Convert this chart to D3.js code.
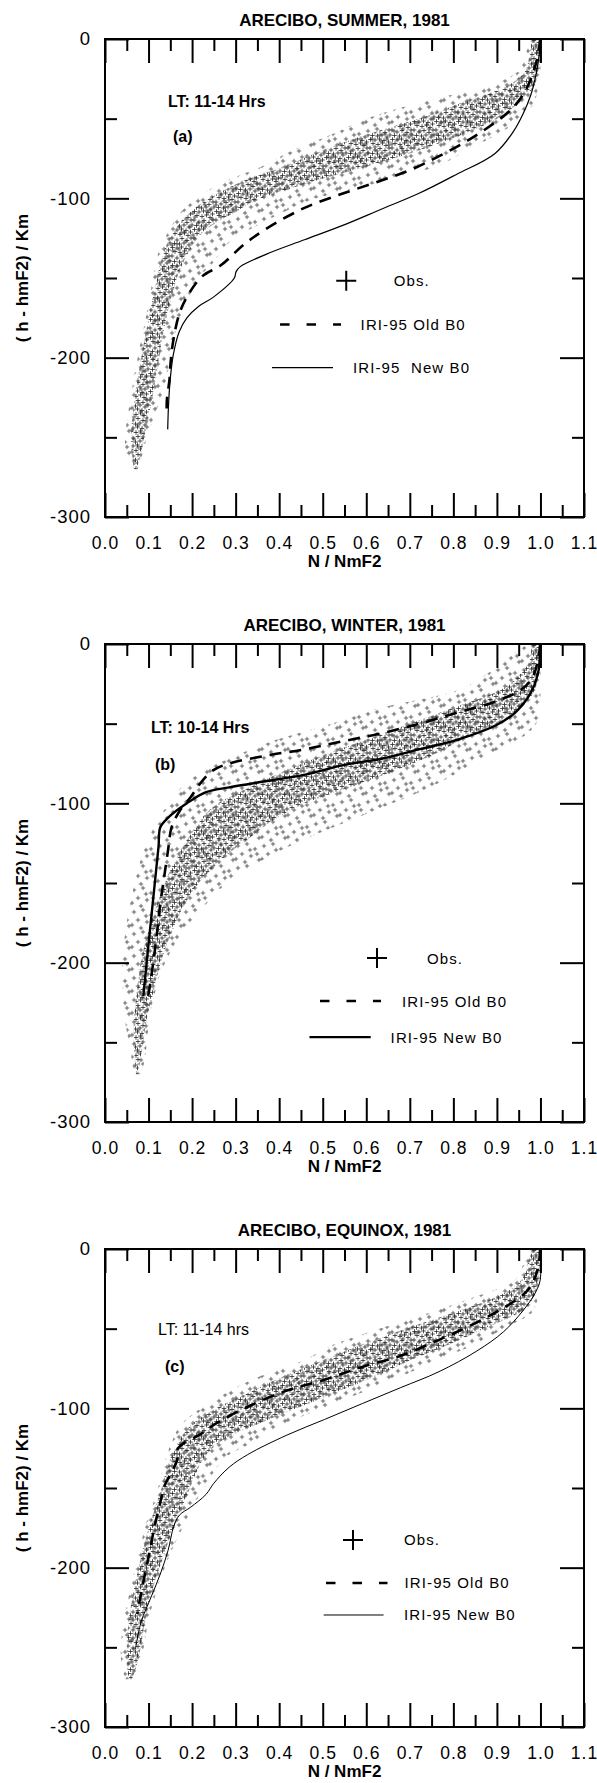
<!DOCTYPE html>
<html>
<head>
<meta charset="utf-8">
<script src="https://cdn.jsdelivr.net/npm/d3@7"></script>
<style>
body { margin:0; background:#fff; }
svg { display:block; font-family:"Liberation Sans", Arial, sans-serif; }
</style>
</head>
<body>
<svg id="chart" width="597" height="1783"></svg>
<script>
// tick values
var xTickLabels = [0, 0.1, 0.2, 0.3, 0.4, 0.5, 0.6, 0.7, 0.8, 0.9, 1.0, 1.1];
var xMinor = [0.05, 0.15, 0.25, 0.35, 0.45, 0.55, 0.65, 0.75, 0.85, 0.95, 1.05];
var yTickLabels = [0, -100, -200, -300];
var yMinor = [-50, -150, -250];

// heights (km) at which the spread of the observed profiles was read
var obsH = [0, -10, -20, -30, -40, -50, -60, -70, -80, -90, -100, -110, -120, -130,
            -140, -150, -160, -170, -180, -190, -200, -210, -220, -230, -240, -250, -260, -270];

// (a) summer : observed spread (outer / dense core)
var aOutL  = [0.975, 0.965, 0.95, 0.87, 0.72, 0.6, 0.52, 0.43, 0.36, 0.27, 0.21, 0.17, 0.148, 0.127, 0.118, 0.11, 0.104, 0.097, 0.09, 0.082, 0.075, 0.068, 0.062, 0.056, 0.05, 0.046, 0.046, 0.058];
var aOutR  = [1.0, 1.0, 1.0, 0.995, 0.985, 0.956, 0.9, 0.83, 0.76, 0.63, 0.485, 0.4, 0.33, 0.275, 0.25, 0.214, 0.196, 0.179, 0.166, 0.157, 0.148, 0.144, 0.135, 0.122, 0.109, 0.096, 0.087, 0.075];
var aCoreL = [0.98, 0.975, 0.965, 0.92, 0.82, 0.72, 0.6, 0.5, 0.41, 0.31, 0.24, 0.19, 0.16, 0.14, 0.128, 0.12, 0.112, 0.104, 0.097, 0.09, 0.083, 0.077, 0.071, 0.066, 0.062, 0.06, 0.062, 0.066];
var aCoreR = [1.0, 1.0, 0.995, 0.985, 0.95, 0.9, 0.82, 0.72, 0.6, 0.47, 0.36, 0.29, 0.23, 0.2, 0.18, 0.165, 0.155, 0.145, 0.137, 0.13, 0.124, 0.118, 0.112, 0.105, 0.098, 0.09, 0.083, 0.072];
// (a) IRI-95 curves
var aOldX = [1.0, 0.99, 0.975, 0.955, 0.93, 0.877, 0.825, 0.764, 0.703, 0.633, 0.546, 0.458, 0.371, 0.319, 0.266, 0.223, 0.188, 0.17, 0.157, 0.151, 0.148, 0.142, 0.142];
var aOldH = [0, -15, -27, -37, -45, -56, -65, -74, -82, -89, -97, -106, -119, -129, -142, -149, -162, -173, -189, -202, -214, -227, -236];
var aNewX = [1.0, 0.997, 0.99, 0.978, 0.96, 0.938, 0.895, 0.807, 0.72, 0.633, 0.546, 0.458, 0.371, 0.31, 0.301, 0.297, 0.249, 0.214, 0.188, 0.17, 0.157, 0.15, 0.146, 0.144];
var aNewH = [0, -10, -22, -35, -47, -58, -72, -85, -97, -107, -117, -126, -135, -143, -146, -150, -162, -168, -175, -184, -198, -213, -229, -245];

// (b) winter
var bOutL  = [0.97, 0.92, 0.87, 0.8, 0.635, 0.52, 0.395, 0.3, 0.223, 0.175, 0.147, 0.122, 0.103, 0.088, 0.077, 0.068, 0.06, 0.053, 0.047, 0.043, 0.04, 0.04, 0.041, 0.043, 0.048, 0.055, 0.061, 0.066];
var bOutR  = [1.0, 1.0, 1.0, 1.0, 1.0, 0.99, 0.95, 0.875, 0.815, 0.745, 0.66, 0.57, 0.48, 0.4, 0.335, 0.28, 0.243, 0.21, 0.18, 0.157, 0.138, 0.123, 0.114, 0.105, 0.1, 0.096, 0.092, 0.083];
var bCoreL = [0.98, 0.975, 0.95, 0.9, 0.8, 0.7, 0.6, 0.5, 0.41, 0.33, 0.26, 0.22, 0.195, 0.172, 0.153, 0.138, 0.124, 0.111, 0.1, 0.09, 0.082, 0.077, 0.072, 0.068, 0.066, 0.066, 0.068, 0.072];
var bCoreR = [1.0, 1.0, 0.995, 0.985, 0.955, 0.9, 0.82, 0.75, 0.66, 0.56, 0.46, 0.39, 0.34, 0.29, 0.25, 0.215, 0.19, 0.17, 0.155, 0.14, 0.128, 0.118, 0.11, 0.1, 0.093, 0.087, 0.082, 0.075];
var bOldX = [1.0, 0.985, 0.959, 0.898, 0.81, 0.723, 0.635, 0.547, 0.46, 0.372, 0.285, 0.25, 0.223, 0.197, 0.171, 0.153, 0.145, 0.136, 0.127, 0.117, 0.105, 0.096];
var bOldH = [0, -19, -28, -36, -43, -50, -56, -61, -66, -70, -75, -79, -86, -96, -105, -115, -129, -146, -163, -187, -211, -226];
var bNewX = [1.0, 0.994, 0.977, 0.942, 0.898, 0.81, 0.723, 0.635, 0.547, 0.46, 0.372, 0.285, 0.232, 0.188, 0.145, 0.127, 0.123, 0.114, 0.105, 0.096, 0.088];
var bNewH = [0, -19, -31, -43, -51, -60, -66, -72, -76, -82, -86, -90, -93, -100, -109, -115, -127, -151, -175, -199, -221];

// (c) equinox
var cOutL  = [0.972, 0.96, 0.94, 0.85, 0.745, 0.63, 0.525, 0.455, 0.355, 0.28, 0.22, 0.175, 0.155, 0.141, 0.131, 0.122, 0.11, 0.097, 0.087, 0.078, 0.069, 0.061, 0.053, 0.045, 0.04, 0.036, 0.037, 0.048];
var cOutR  = [1.0, 1.0, 1.0, 0.995, 0.98, 0.914, 0.85, 0.76, 0.68, 0.59, 0.5, 0.41, 0.35, 0.28, 0.25, 0.228, 0.205, 0.187, 0.169, 0.152, 0.137, 0.123, 0.113, 0.102, 0.095, 0.089, 0.079, 0.063];
var cCoreL = [0.98, 0.97, 0.955, 0.9, 0.8, 0.69, 0.59, 0.5, 0.41, 0.33, 0.255, 0.2, 0.17, 0.152, 0.14, 0.13, 0.118, 0.106, 0.095, 0.086, 0.077, 0.069, 0.062, 0.056, 0.052, 0.05, 0.05, 0.055];
var cCoreR = [1.0, 1.0, 0.995, 0.985, 0.95, 0.87, 0.79, 0.7, 0.62, 0.53, 0.44, 0.35, 0.27, 0.23, 0.21, 0.195, 0.18, 0.165, 0.15, 0.138, 0.125, 0.113, 0.103, 0.095, 0.088, 0.082, 0.074, 0.062];
var cOldX = [1.0, 0.994, 0.981, 0.959, 0.915, 0.854, 0.767, 0.679, 0.591, 0.504, 0.416, 0.328, 0.258, 0.215, 0.18, 0.164, 0.166, 0.149, 0.136, 0.127, 0.114, 0.101, 0.088, 0.074];
var cOldH = [0, -12, -22, -29, -37, -46, -57, -67, -74, -82, -89, -99, -109, -117, -122, -127, -132, -142, -149, -159, -174, -192, -209, -229];
var cNewX = [1.0, 0.999, 0.985, 0.959, 0.915, 0.854, 0.767, 0.679, 0.591, 0.504, 0.416, 0.328, 0.285, 0.25, 0.232, 0.197, 0.171, 0.158, 0.145, 0.127, 0.105, 0.083, 0.07];
var cNewH = [0, -20, -29, -39, -52, -64, -77, -87, -97, -107, -117, -129, -137, -147, -154, -162, -167, -174, -189, -204, -219, -234, -251];

var titles = ["ARECIBO, SUMMER, 1981", "ARECIBO, WINTER, 1981", "ARECIBO, EQUINOX, 1981"];
var ltTexts = ["LT: 11-14 Hrs", "LT: 10-14 Hrs", "LT: 11-14 hrs"];
var tags = ["(a)", "(b)", "(c)"];
var newLabels = ["IRI-95  New B0", "IRI-95 New B0", "IRI-95 New B0"];

// layout only
var plotLeft = 105, plotW = 479, plotH = 478;
var layout = [
  {top: 39,   ltX: 63, ltY: 68, ltBold: true,  tagX: 68, tagY: 103, newW: 1.2,
   leg: {plusX: 0.554, plusY: -151.7, obsX: 0.663, l0: 0.402, l1: 0.542, oldY: -179.2, oldX: 0.587, n0: 0.3835, n1: 0.5236, newY: -206.2, newX: 0.5695}},
  {top: 644,  ltX: 46, ltY: 89, ltBold: true,  tagX: 50, tagY: 126, newW: 2.4,
   leg: {plusX: 0.6246, plusY: -197.1, obsX: 0.7394, l0: 0.4937, l1: 0.6338, oldY: -224.1, oldX: 0.682, n0: 0.4696, n1: 0.6102, newY: -246.7, newX: 0.6559}},
  {top: 1249, ltX: 53, ltY: 86, ltBold: false, tagX: 60, tagY: 123, newW: 1.0,
   leg: {plusX: 0.5695, plusY: -182.6, obsX: 0.6866, l0: 0.5075, l1: 0.6487, oldY: -209.6, oldX: 0.688, n0: 0.5022, n1: 0.6398, newY: -229.7, newX: 0.6866}}
];

var spreads = [
  {outL: aOutL, outR: aOutR, coreL: aCoreL, coreR: aCoreR, oldX: aOldX, oldH: aOldH, newX: aNewX, newH: aNewH},
  {outL: bOutL, outR: bOutR, coreL: bCoreL, coreR: bCoreR, oldX: bOldX, oldH: bOldH, newX: bNewX, newH: bNewH},
  {outL: cOutL, outR: cOutR, coreL: cCoreL, coreR: cCoreR, oldX: cOldX, oldH: cOldH, newX: cNewX, newH: cNewH}
];

var svg = d3.select("#chart");
var defs = svg.append("defs");

// "+" marker textures for the observed profiles (tile positions are texture only)
function plusPattern(id, w, h, pts, color, sw, arm) {
  var p = defs.append("pattern").attr("id", id)
    .attr("patternUnits", "userSpaceOnUse").attr("width", w).attr("height", h);
  var d = "";
  pts.forEach(function (q) {
    [-1, 0, 1].forEach(function (i) {
      [-1, 0, 1].forEach(function (j) {
        var cx = q[0] + i * w, cy = q[1] + j * h;
        d += "M" + (cx - arm) + "," + cy + "h" + 2 * arm + "M" + cx + "," + (cy - arm) + "v" + 2 * arm;
      });
    });
  });
  p.append("path").attr("d", d).attr("stroke", color).attr("stroke-width", sw).attr("fill", "none");
}
plusPattern("obsSparse", 26, 22,
  [[3, 4], [12, 2], [20, 7], [7, 12], [16, 14], [24, 18], [10, 20], [1, 17], [22, 12], [15, 8]],
  "#3c3c3c", 0.75, 2.2);
plusPattern("obsDense", 22, 18,
  [[1, 1], [6, 3], [11, 1.5], [16, 3.5], [20, 1], [3.5, 6.5], [8.5, 7], [13, 6],
   [18, 8], [1.5, 10.5], [6, 11], [10.5, 10], [15, 11.5], [19.5, 13], [4, 14.5],
   [9, 15.5], [13.5, 14], [17, 16.5], [21, 6]],
  "#2a2a2a", 0.8, 2.3);

var x = d3.scaleLinear().domain([0, 1.1]).range([0, plotW]);
var y = d3.scaleLinear().domain([0, -300]).range([0, plotH]);

var area = d3.area()
  .y(function (d) { return y(d.h); })
  .x0(function (d) { return x(d.l); })
  .x1(function (d) { return x(d.r); })
  .curve(d3.curveMonotoneY);

var line = d3.line()
  .x(function (d) { return x(d[0]); })
  .y(function (d) { return y(d[1]); })
  .curve(d3.curveCatmullRom.alpha(0.5));

function styleAxis(g, size) {
  g.select(".domain").remove();
  g.selectAll(".tick line").attr("stroke", "#000").attr("stroke-width", 2);
  g.selectAll("text").attr("fill", "#000").style("font-size", size + "px")
    .style("letter-spacing", "1px").style("font-family", "'Liberation Sans', Arial, sans-serif");
}

layout.forEach(function (L, i) {
  var S = spreads[i];
  var g = svg.append("g").attr("transform", "translate(" + plotLeft + "," + L.top + ")");

  g.append("clipPath").attr("id", "clip" + i)
    .append("rect").attr("width", plotW).attr("height", plotH);

  var data = g.append("g").attr("clip-path", "url(#clip" + i + ")");
  var outer = obsH.map(function (h, k) { return {h: h, l: S.outL[k], r: S.outR[k]}; });
  var core = obsH.map(function (h, k) { return {h: h, l: S.coreL[k], r: S.coreR[k]}; });
  data.append("path").datum(outer).attr("d", area).attr("fill", "url(#obsSparse)");
  data.append("path").datum(core).attr("d", area).attr("fill", "url(#obsDense)");

  data.append("path").datum(S.oldX.map(function (v, k) { return [v, S.oldH[k]]; }))
    .attr("d", line).attr("fill", "none").attr("stroke", "#000")
    .attr("stroke-width", 2.6).attr("stroke-dasharray", "12,8");
  data.append("path").datum(S.newX.map(function (v, k) { return [v, S.newH[k]]; }))
    .attr("d", line).attr("fill", "none").attr("stroke", "#000")
    .attr("stroke-width", L.newW);

  // axes: inward ticks on all four sides
  g.append("g").attr("transform", "translate(0," + plotH + ")")
    .call(d3.axisBottom(x).tickValues(xTickLabels).tickSizeInner(-24).tickSizeOuter(0)
      .tickPadding(20).tickFormat(d3.format(".1f")))
    .call(styleAxis, 17.5);
  g.append("g").attr("transform", "translate(0," + plotH + ")")
    .call(d3.axisBottom(x).tickValues(xMinor).tickSizeInner(-12).tickSizeOuter(0).tickFormat(""))
    .call(styleAxis, 17);
  g.append("g")
    .call(d3.axisTop(x).tickValues(xTickLabels).tickSizeInner(-24).tickSizeOuter(0).tickFormat(""))
    .call(styleAxis, 17);
  g.append("g")
    .call(d3.axisTop(x).tickValues(xMinor).tickSizeInner(-12).tickSizeOuter(0).tickFormat(""))
    .call(styleAxis, 17);
  g.append("g")
    .call(d3.axisLeft(y).tickValues(yTickLabels).tickSizeInner(-24).tickSizeOuter(0)
      .tickPadding(14).tickFormat(function (d) { return String(d); }))
    .call(styleAxis, 18.5);
  g.append("g")
    .call(d3.axisLeft(y).tickValues(yMinor).tickSizeInner(-12).tickSizeOuter(0).tickFormat(""))
    .call(styleAxis, 17);
  g.append("g").attr("transform", "translate(" + plotW + ",0)")
    .call(d3.axisRight(y).tickValues(yTickLabels).tickSizeInner(-24).tickSizeOuter(0).tickFormat(""))
    .call(styleAxis, 17);
  g.append("g").attr("transform", "translate(" + plotW + ",0)")
    .call(d3.axisRight(y).tickValues(yMinor).tickSizeInner(-12).tickSizeOuter(0).tickFormat(""))
    .call(styleAxis, 17);

  g.append("rect").attr("width", plotW).attr("height", plotH)
    .attr("fill", "none").attr("stroke", "#000").attr("stroke-width", 2);

  // titles
  g.append("text").attr("x", plotW / 2).attr("y", -13).attr("text-anchor", "middle")
    .style("font-size", "17px").style("font-weight", "bold").text(titles[i]);
  g.append("text").attr("x", plotW / 2).attr("y", plotH + 50).attr("text-anchor", "middle")
    .style("font-size", "17px").style("font-weight", "bold").text("N / NmF2");
  g.append("text").attr("transform", "translate(" + (22 - plotLeft) + "," + plotH / 2 + ") rotate(-90)")
    .attr("text-anchor", "middle").attr("dy", "0.35em")
    .style("font-size", "17px").style("font-weight", "bold").text("( h - hmF2) / Km");

  g.append("text").attr("x", L.ltX).attr("y", L.ltY)
    .style("font-size", "16px").style("font-weight", L.ltBold ? "bold" : "normal").text(ltTexts[i]);
  g.append("text").attr("x", L.tagX).attr("y", L.tagY)
    .style("font-size", "16px").style("font-weight", "bold").text(tags[i]);

  // legend
  var lg = L.leg;
  var legText = function (tx, ty, s) {
    g.append("text").attr("x", x(tx)).attr("y", y(ty) + 5.5)
      .style("font-size", "15px").style("letter-spacing", "1.1px").style("white-space", "pre").text(s);
  };
  g.append("path")
    .attr("d", "M" + (x(lg.plusX) - 10) + "," + y(lg.plusY) + "h20M" + x(lg.plusX) + "," + (y(lg.plusY) - 10) + "v20")
    .attr("stroke", "#000").attr("stroke-width", 2);
  legText(lg.obsX, lg.plusY, "Obs.");
  g.append("line").attr("x1", x(lg.l0)).attr("x2", x(lg.l1)).attr("y1", y(lg.oldY)).attr("y2", y(lg.oldY))
    .attr("stroke", "#000").attr("stroke-width", 2.6).attr("stroke-dasharray", "9.5,17");
  legText(lg.oldX, lg.oldY, "IRI-95 Old B0");
  g.append("line").attr("x1", x(lg.n0)).attr("x2", x(lg.n1)).attr("y1", y(lg.newY)).attr("y2", y(lg.newY))
    .attr("stroke", "#000").attr("stroke-width", L.newW);
  legText(lg.newX, lg.newY, newLabels[i]);
});
</script>
</body>
</html>
